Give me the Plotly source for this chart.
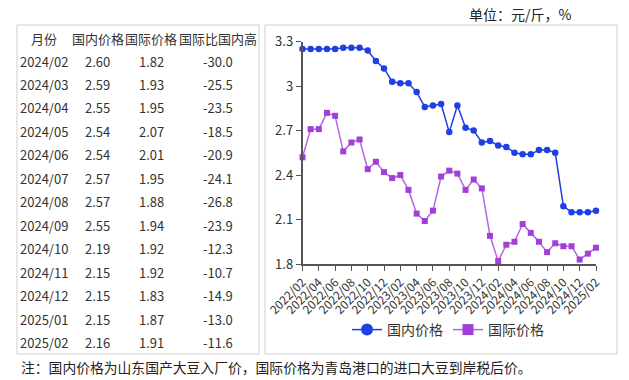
import plotly.graph_objects as go

W, H = 629, 380

months = []
for y in (2022, 2023, 2024, 2025):
    for m in range(1, 13):
        if (y == 2022 and m < 2) or (y == 2025 and m > 2):
            continue
        months.append(f"{y}/{m:02d}")

domestic = [3.25, 3.25, 3.25, 3.25, 3.25, 3.26, 3.26, 3.26, 3.24, 3.17, 3.12,
            3.03, 3.02, 3.02, 2.96, 2.86, 2.87, 2.88, 2.69, 2.87, 2.72, 2.70, 2.62,
            2.63, 2.60, 2.59, 2.55, 2.54, 2.54, 2.57, 2.57, 2.55, 2.19, 2.15, 2.15,
            2.15, 2.16]
international = [2.52, 2.71, 2.71, 2.82, 2.80, 2.56, 2.62, 2.64, 2.44, 2.49, 2.42,
                 2.38, 2.40, 2.30, 2.14, 2.09, 2.16, 2.39, 2.43, 2.41, 2.30, 2.37, 2.31,
                 1.99, 1.82, 1.93, 1.95, 2.07, 2.01, 1.95, 1.88, 1.94, 1.92, 1.92, 1.83,
                 1.87, 1.91]

table_header = ["月份", "国内价格", "国际价格", "国际比国内高"]
table_months = ["2024/02", "2024/03", "2024/04", "2024/05", "2024/06", "2024/07",
                "2024/08", "2024/09", "2024/10", "2024/11", "2024/12", "2025/01", "2025/02"]
table_domestic = ["2.60", "2.59", "2.55", "2.54", "2.54", "2.57", "2.57", "2.55",
                  "2.19", "2.15", "2.15", "2.15", "2.16"]
table_international = ["1.82", "1.93", "1.95", "2.07", "2.01", "1.95", "1.88", "1.94",
                       "1.92", "1.92", "1.83", "1.87", "1.91"]
table_diff = ["-30.0", "-25.5", "-23.5", "-18.5", "-20.9", "-24.1", "-26.8", "-23.9",
              "-12.3", "-10.7", "-14.9", "-13.0", "-11.6"]

y_ticks = [1.8, 2.1, 2.4, 2.7, 3.0, 3.3]
y_ticktext = ["1.8", "2.1", "2.4", "2.7", "3", "3.3"]

series_names = ["国内价格", "国际价格"]
title_text = "单位：元/斤，%"
note_text = "注：国内价格为山东国产大豆入厂价，国际价格为青岛港口的进口大豆到岸税后价。"

FONT = "Noto Sans CJK SC, Noto Sans, sans-serif"
BLUE = "#1f3fe6"
PURPLE_M = "#a23fd8"
PURPLE_L = "#b466e2"
TXT = "#333333"


def px(x):
    return x / W


def py(y):
    return (H - y) / H


fig = go.Figure()

fig.add_trace(go.Scatter(
    x=months, y=domestic, mode="lines+markers", name=series_names[0],
    line=dict(color=BLUE, width=1.5),
    marker=dict(symbol="circle", size=6.5, color=BLUE),
    cliponaxis=False, showlegend=False))
fig.add_trace(go.Scatter(
    x=months, y=international, mode="lines+markers", name=series_names[1],
    line=dict(color=PURPLE_L, width=1.5),
    marker=dict(symbol="square", size=6, color=PURPLE_M),
    cliponaxis=False, showlegend=False))

# legend entries (larger symbols as in the reference)
fig.add_trace(go.Scatter(
    x=[None], y=[None], mode="lines+markers", name=series_names[0],
    line=dict(color=BLUE, width=1.5),
    marker=dict(symbol="circle", size=12, color=BLUE)))
fig.add_trace(go.Scatter(
    x=[None], y=[None], mode="lines+markers", name=series_names[1],
    line=dict(color=PURPLE_L, width=1.5),
    marker=dict(symbol="square", size=11, color=PURPLE_M)))

# table built as text annotations
col_centers = [44, 97.5, 151, 217.5]
header_y = 39
row_y0 = 61
row_step = 23.47
annotations = []
for c, h in enumerate(table_header):
    annotations.append(dict(text=h, xref="paper", yref="paper", x=px(col_centers[c]),
                            y=py(header_y), xanchor="center", yanchor="middle",
                            showarrow=False, font=dict(size=13, color=TXT)))
columns = [table_months, table_domestic, table_international, table_diff]
for c, col in enumerate(columns):
    for r, v in enumerate(col):
        annotations.append(dict(text=v, xref="paper", yref="paper", x=px(col_centers[c]),
                                y=py(row_y0 + r * row_step), xanchor="center",
                                yanchor="middle", showarrow=False,
                                font=dict(size=13, color=TXT)))

annotations.append(dict(text=title_text, xref="paper", yref="paper", x=px(520), y=py(14),
                        xanchor="center", yanchor="middle", showarrow=False,
                        font=dict(size=14, color="#222")))
annotations.append(dict(text=note_text, xref="paper", yref="paper", x=px(19), y=py(367),
                        xanchor="left", yanchor="middle", showarrow=False,
                        font=dict(size=13.8, color="#222")))

fig.update_layout(
    width=W, height=H,
    margin=dict(l=0, r=0, t=0, b=0, pad=0, autoexpand=False),
    paper_bgcolor="white", plot_bgcolor="white",
    font=dict(family=FONT, size=12, color=TXT),
    xaxis=dict(
        domain=[px(302.5), px(596)], automargin=False,
        type="category", range=[0, len(months) - 1],
        tickmode="array", tickvals=months[::2], ticktext=months[::2],
        tickangle=-45, ticks="outside", ticklen=5, tickcolor="#555",
        showline=True, linecolor="#555", linewidth=1.5,
        showgrid=False, zeroline=False,
        tickfont=dict(size=12, color=TXT),
    ),
    yaxis=dict(
        domain=[py(264), py(41.7)], automargin=False,
        range=[1.8, 3.3], tickmode="array", tickvals=y_ticks, ticktext=y_ticktext,
        ticks="outside", ticklen=5, tickcolor="#555",
        showline=True, linecolor="#555", linewidth=1.5,
        showgrid=False, zeroline=False,
        tickfont=dict(size=13, color=TXT),
    ),
    legend=dict(orientation="h", x=px(448), xanchor="center", y=py(330), yanchor="middle",
                font=dict(size=14, color=TXT), bgcolor="rgba(0,0,0,0)",
                itemwidth=30, tracegroupgap=0),
    shapes=[
        dict(type="rect", xref="paper", yref="paper",
             x0=px(17), x1=px(259), y0=py(354), y1=py(25),
             line=dict(color="#cfcfcf", width=1), fillcolor="rgba(0,0,0,0)", layer="above"),
        dict(type="rect", xref="paper", yref="paper",
             x0=px(265), x1=px(617), y0=py(354), y1=py(25),
             line=dict(color="#cfcfcf", width=1), fillcolor="rgba(0,0,0,0)", layer="above"),
    ],
    annotations=annotations,
)

fig.write_html("out.html", config={"displayModeBar": False},
               post_script="document.body.style.margin='0';")
